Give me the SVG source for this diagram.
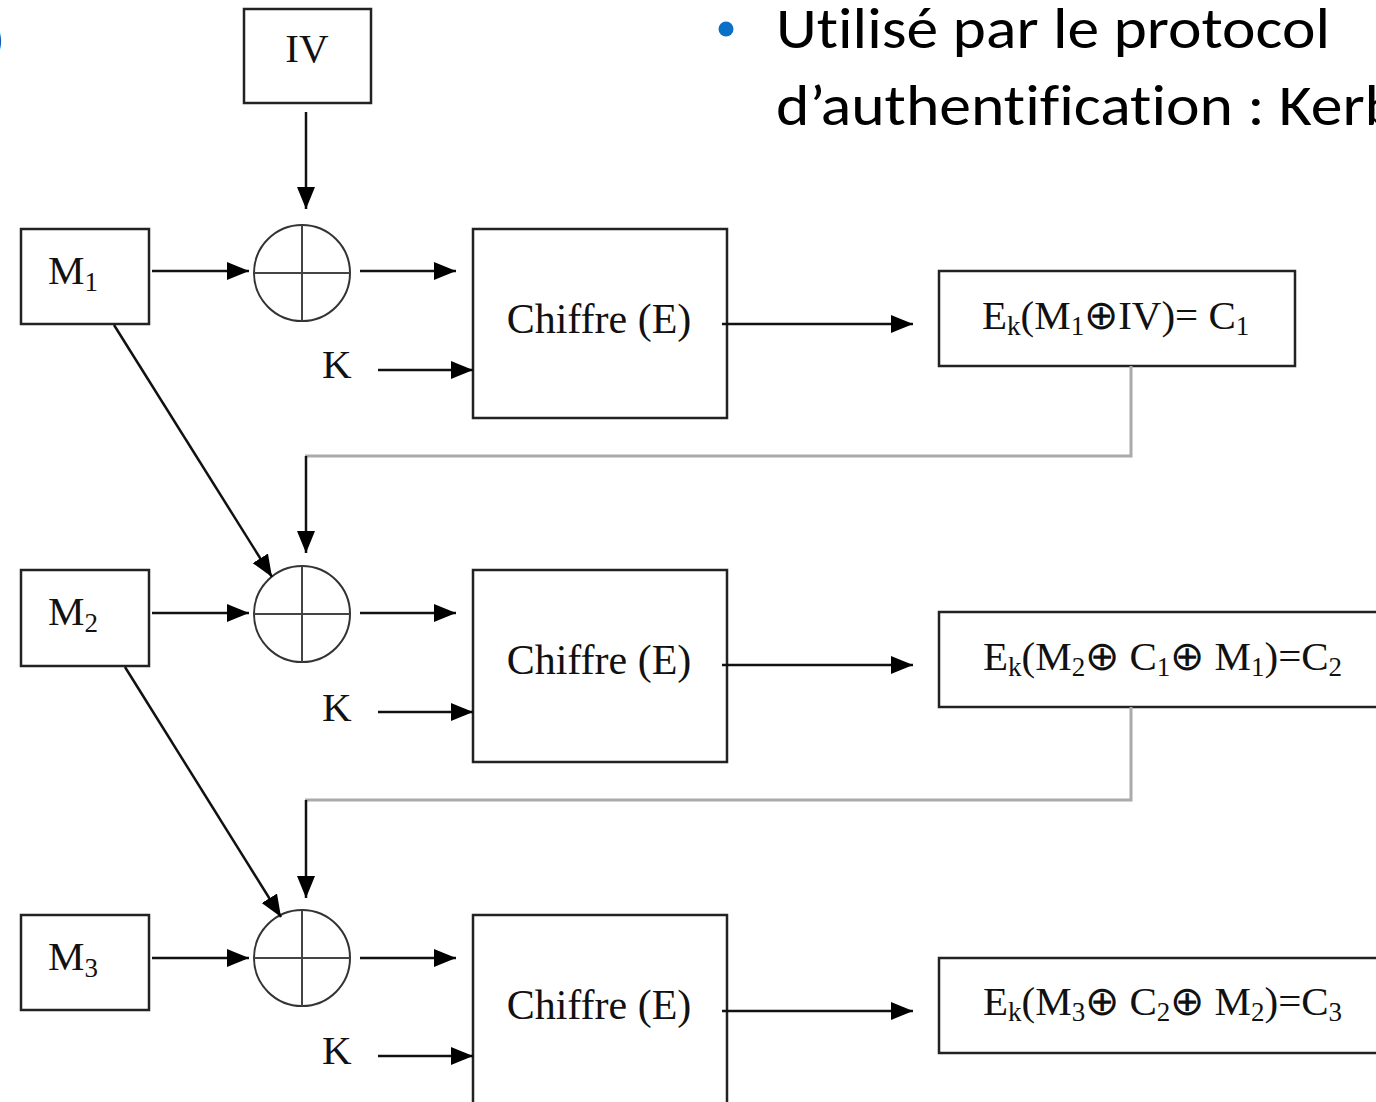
<svg xmlns="http://www.w3.org/2000/svg" width="1376" height="1102" viewBox="0 0 1376 1102">
  <style>
    .box { fill: #fff; stroke: #222; stroke-width: 2.5; }
    .xor { fill: none; stroke: #333; stroke-width: 2; }
    .cross { stroke: #444; stroke-width: 2; }
    .tm { font-family: "Liberation Serif", "Times New Roman", serif; fill: #111; }
    .lbl { font-size: 41px; }
    .enc { font-size: 42px; }
    .out { font-size: 41px; }
    .sub { font-size: 27px; }
    .wire { fill: none; stroke: #111; stroke-width: 2.5; }
    .gray { fill: none; stroke: #aaa; stroke-width: 3; }
    .slide { font-family: Carlito, "Open Sans", "Liberation Sans", sans-serif; font-size: 58px; fill: #000; font-variant-ligatures: none; }
  </style>
  <defs>
    <marker id="head" markerUnits="userSpaceOnUse" markerWidth="24" markerHeight="20" refX="22" refY="9" orient="auto">
      <path d="M0,0 L22,9 L0,18 Z" fill="#000"/>
    </marker>
  </defs>

  <rect width="1376" height="1102" fill="#fff"/>

  <!-- closing bracket left over from the neighbouring text block -->
  <text x="-12" y="52" class="tm" font-size="44" fill="#1a2a6a">)</text>

  <!-- bullet point -->
  <g id="bullet">
    <circle cx="726" cy="29" r="7.5" fill="#0a6fc6"/>
    <text class="slide" x="776" y="48" textLength="554" lengthAdjust="spacingAndGlyphs">Utilisé par le protocol</text>
    <text class="slide" x="776" y="125" textLength="622" lengthAdjust="spacingAndGlyphs">d’authentification : Kerb</text>
  </g>

  <!-- IV -->
  <g id="iv">
    <rect class="box" x="244" y="9" width="127" height="94"/>
    <text class="tm lbl" x="307" y="62" text-anchor="middle">IV</text>
  </g>

  <!-- Row 1 -->
  <g id="m1">
    <rect class="box" x="21" y="229" width="128" height="95"/>
    <text class="tm lbl" x="48" y="284">M<tspan class="sub" dy="7">1</tspan></text>
  </g>
  <g id="xor1">
    <circle class="xor" cx="302" cy="273" r="48"/>
    <line class="cross" x1="254" y1="273" x2="350" y2="273"/>
    <line class="cross" x1="302" y1="225" x2="302" y2="321"/>
  </g>
  <g id="k1"><text class="tm lbl" x="322" y="378">K</text></g>
  <g id="enc1">
    <rect class="box" x="473" y="229" width="254" height="189"/>
    <text class="tm enc" x="599" y="333" text-anchor="middle">Chiffre (E)</text>
  </g>
  <g id="c1">
    <rect class="box" x="939" y="271" width="356" height="95"/>
    <text class="tm out" x="982" y="329">E<tspan class="sub" dy="6">k</tspan><tspan dy="-6">(M</tspan><tspan class="sub" dy="6">1</tspan><tspan dy="-6">⊕IV)= C</tspan><tspan class="sub" dy="6">1</tspan></text>
  </g>

  <!-- Row 2 -->
  <g id="m2">
    <rect class="box" x="21" y="570" width="128" height="96"/>
    <text class="tm lbl" x="48" y="625">M<tspan class="sub" dy="7">2</tspan></text>
  </g>
  <g id="xor2">
    <circle class="xor" cx="302" cy="614" r="48"/>
    <line class="cross" x1="254" y1="614" x2="350" y2="614"/>
    <line class="cross" x1="302" y1="566" x2="302" y2="662"/>
  </g>
  <g id="k2"><text class="tm lbl" x="322" y="721">K</text></g>
  <g id="enc2">
    <rect class="box" x="473" y="570" width="254" height="192"/>
    <text class="tm enc" x="599" y="674" text-anchor="middle">Chiffre (E)</text>
  </g>
  <g id="c2">
    <rect class="box" x="939" y="612" width="450" height="95"/>
    <text class="tm out" x="983" y="670">E<tspan class="sub" dy="6">k</tspan><tspan dy="-6">(M</tspan><tspan class="sub" dy="6">2</tspan><tspan dy="-6">⊕ C</tspan><tspan class="sub" dy="6">1</tspan><tspan dy="-6">⊕ M</tspan><tspan class="sub" dy="6">1</tspan><tspan dy="-6">)=C</tspan><tspan class="sub" dy="6">2</tspan></text>
  </g>

  <!-- Row 3 -->
  <g id="m3">
    <rect class="box" x="21" y="915" width="128" height="95"/>
    <text class="tm lbl" x="48" y="970">M<tspan class="sub" dy="7">3</tspan></text>
  </g>
  <g id="xor3">
    <circle class="xor" cx="302" cy="958" r="48"/>
    <line class="cross" x1="254" y1="958" x2="350" y2="958"/>
    <line class="cross" x1="302" y1="910" x2="302" y2="1006"/>
  </g>
  <g id="k3"><text class="tm lbl" x="322" y="1064">K</text></g>
  <g id="enc3">
    <rect class="box" x="473" y="915" width="254" height="200"/>
    <text class="tm enc" x="599" y="1019" text-anchor="middle">Chiffre (E)</text>
  </g>
  <g id="c3">
    <rect class="box" x="939" y="958" width="450" height="95"/>
    <text class="tm out" x="983" y="1015">E<tspan class="sub" dy="6">k</tspan><tspan dy="-6">(M</tspan><tspan class="sub" dy="6">3</tspan><tspan dy="-6">⊕ C</tspan><tspan class="sub" dy="6">2</tspan><tspan dy="-6">⊕ M</tspan><tspan class="sub" dy="6">2</tspan><tspan dy="-6">)=C</tspan><tspan class="sub" dy="6">3</tspan></text>
  </g>

  <!-- connectors -->
  <g id="connectors">
    <line class="wire" x1="306" y1="112" x2="306" y2="209" marker-end="url(#head)"/>

    <line class="wire" x1="152" y1="271" x2="249" y2="271" marker-end="url(#head)"/>
    <line class="wire" x1="360" y1="271" x2="456" y2="271" marker-end="url(#head)"/>
    <line class="wire" x1="378" y1="370" x2="473" y2="370" marker-end="url(#head)"/>
    <line class="wire" x1="722" y1="324" x2="913" y2="324" marker-end="url(#head)" stroke="#444"/>
    <polyline class="gray" points="1131,366 1131,456 305,456"/>
    <line class="wire" x1="306" y1="456" x2="306" y2="553" marker-end="url(#head)"/>
    <line class="wire" x1="114" y1="325" x2="272" y2="577" marker-end="url(#head)"/>

    <line class="wire" x1="152" y1="613" x2="249" y2="613" marker-end="url(#head)"/>
    <line class="wire" x1="360" y1="613" x2="456" y2="613" marker-end="url(#head)"/>
    <line class="wire" x1="378" y1="712" x2="473" y2="712" marker-end="url(#head)"/>
    <line class="wire" x1="722" y1="665" x2="913" y2="665" marker-end="url(#head)" stroke="#444"/>
    <polyline class="gray" points="1131,707 1131,800 305,800" stroke="#999"/>
    <line class="wire" x1="306" y1="800" x2="306" y2="898" marker-end="url(#head)"/>
    <line class="wire" x1="125" y1="667" x2="281" y2="917" marker-end="url(#head)"/>

    <line class="wire" x1="152" y1="958" x2="249" y2="958" marker-end="url(#head)"/>
    <line class="wire" x1="360" y1="958" x2="456" y2="958" marker-end="url(#head)"/>
    <line class="wire" x1="378" y1="1056" x2="473" y2="1056" marker-end="url(#head)"/>
    <line class="wire" x1="722" y1="1011" x2="913" y2="1011" marker-end="url(#head)"/>
  </g>
</svg>
